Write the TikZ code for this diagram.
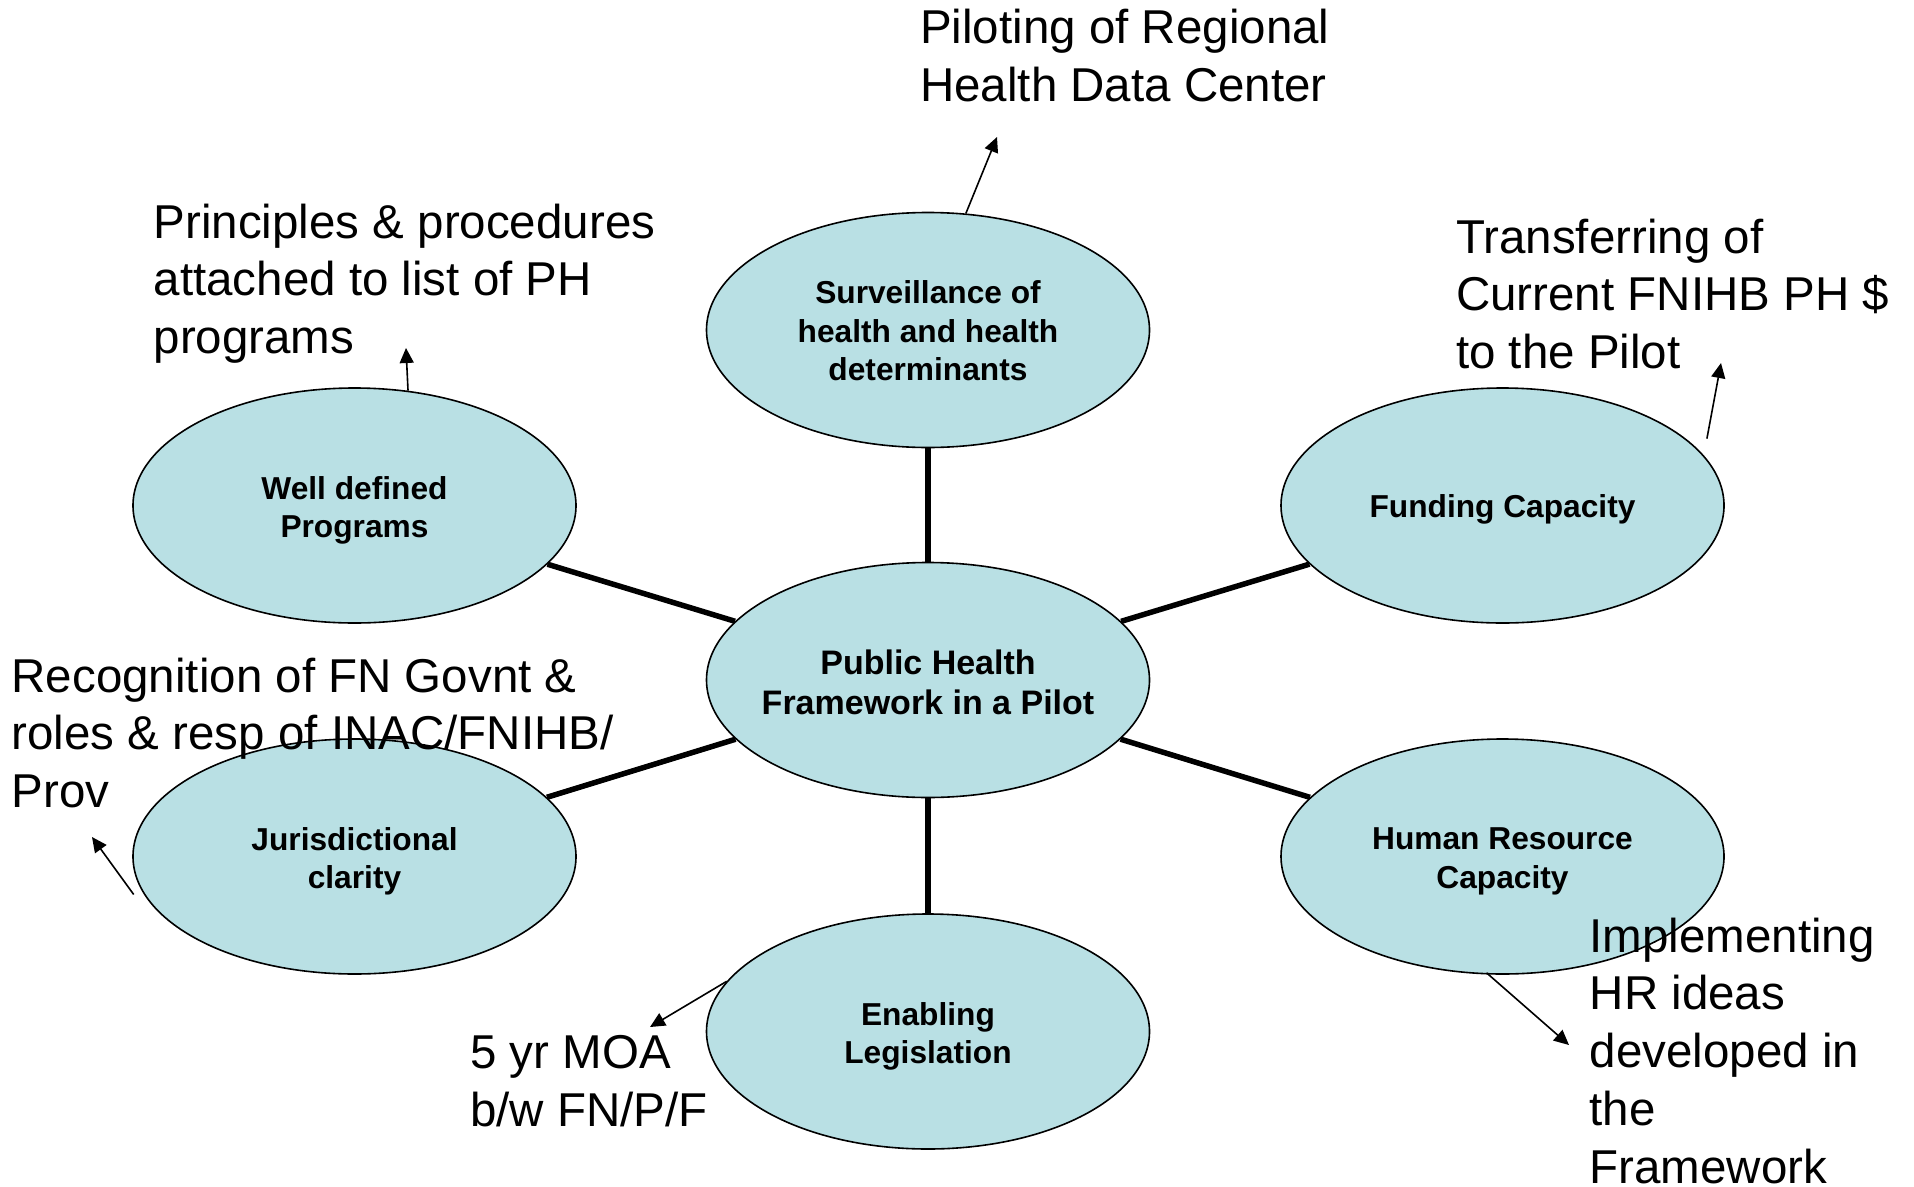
\documentclass[tikz,border=0pt]{standalone}
\usepackage{fontspec}
\setmainfont{Liberation Sans}
\usetikzlibrary{shapes.geometric,arrows.meta}
\definecolor{ellfill}{RGB}{185,224,228}
\tikzset{
  bubble/.style={ellipse, draw=black, line width=1.6pt, fill=ellfill,
    minimum width=443pt, minimum height=235pt, inner sep=0pt},
  ellabel/.style={align=center, inner sep=0pt,
    font=\fontsize{31.7}{38.5}\selectfont\bfseries},
  celabel/.style={align=center, inner sep=0pt,
    font=\fontsize{34}{40}\selectfont\bfseries},
  note/.style={align=left, inner sep=0pt, anchor=base west,
    font=\fontsize{47.5}{57.7}\selectfont},
  spoke/.style={line width=5.5pt},
  pointer/.style={line width=1.6pt, -{Triangle[length=15pt,width=14pt]}}
}
\begin{document}
\begin{tikzpicture}[x=1pt,y=-1pt]
\useasboundingbox (0,0) rectangle (1914,1186);

% ellipses
\node[bubble, label={[celabel, yshift=-2pt]center:{Public Health\\Framework in a Pilot}}] (c) at (928,680) {};
\node[bubble, label={[ellabel, yshift=-1pt]center:{Surveillance of\\health and health\\determinants}}] (sv) at (928,330) {};
\node[bubble, label={[ellabel, yshift=-5pt]center:{Well defined\\Programs}}] (wd) at (354.5,505.5) {};
\node[bubble, label={[ellabel, yshift=-4pt]center:{Funding Capacity}}] (fc) at (1502.5,505.5) {};
\node[bubble, label={[ellabel, yshift=-5pt]center:{Jurisdictional\\clarity}}] (jc) at (354.5,856.5) {};
\node[bubble, label={[ellabel, yshift=-5pt]center:{Human Resource\\Capacity}}] (hr) at (1502.5,856.5) {};
\node[bubble, label={[ellabel, yshift=-5pt]center:{Enabling\\Legislation}}] (el) at (928,1031.5) {};

% spokes
\draw[spoke] (c) -- (sv);
\draw[spoke] (c) -- (el);
\draw[spoke] (c) -- (wd);
\draw[spoke] (c) -- (fc);
\draw[spoke] (c) -- (jc);
\draw[spoke] (c) -- (hr);

% notes (anchored at the baseline of their last line)
\node[note] (nsv) at (920,101.5) {Piloting of Regional\\Health Data Center};
\node[note] (nwd) at (153.5,353.5) {Principles \& procedures\\attached to list of PH\\programs};
\node[note] (nfc) at (1456,368.5) {Transferring of\\Current FNIHB PH \$\\to the Pilot};
\node[note] (njc) at (11.5,807.5) {Recognition of FN Govnt \&\\roles \& resp of INAC/FNIHB/\\Prov};
\node[note] (nel) at (470,1126) {5 yr MOA\\b/w FN/P/F};
\node[note] (nhr) at (1589.5,1183) {Implementing\\HR ideas\\developed in\\the\\Framework};

% arrow tips
\coordinate (tsv) at (997,137);
\coordinate (twd) at (406,348);
\coordinate (tfc) at (1721,363);
\coordinate (tjc) at (92,837);
\coordinate (tel) at (650,1027);
\coordinate (thr) at (1569,1045);

\draw[pointer] (sv.72.6) -- (tsv);
\draw[pointer] (wd.65.4) -- (twd);
\draw[pointer, shorten <=17pt] (fc.14.2) -- (tfc);
\draw[pointer] ([xshift=1.5pt,yshift=-38pt]jc.west) -- (tjc);
\draw[pointer] (el.166.2) -- (tel);
\draw[pointer] ([xshift=-16pt,yshift=2pt]hr.south) -- (thr);
\end{tikzpicture}
\end{document}
